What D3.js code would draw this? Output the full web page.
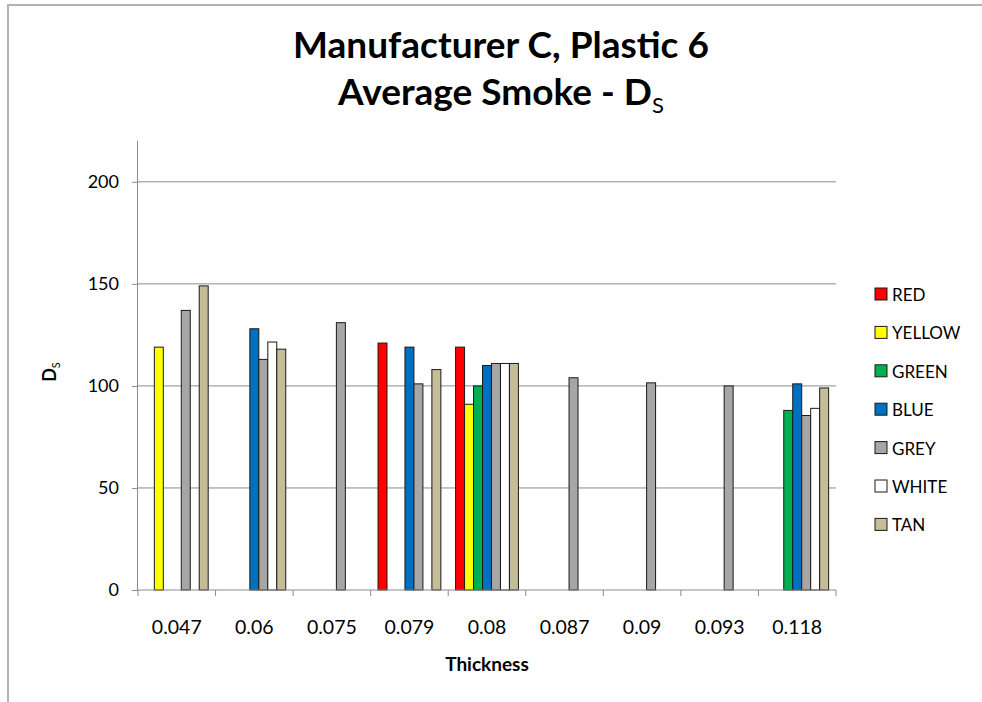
<!DOCTYPE html>
<html>
<head>
<meta charset="utf-8">
<script src="https://cdn.jsdelivr.net/npm/d3@7"></script>
<style>
  html, body { margin: 0; padding: 0; background: #fff; }
  svg { display: block; }
  text { font-family: Lato, "Open Sans", sans-serif; fill: #000; }
</style>
</head>
<body>
<svg id="chart" width="982" height="702"></svg>
<script>
// Thickness categories (x axis)
const categories = ["0.047", "0.06", "0.075", "0.079", "0.08", "0.087", "0.09", "0.093", "0.118"];

// Series names and fills
const seriesNames = ["RED", "YELLOW", "GREEN", "BLUE", "GREY", "WHITE", "TAN"];
const seriesColors = ["#ff0000", "#ffff00", "#00b050", "#0070c0", "#a6a6a6", "#ffffff", "#c4bd97"];

// Average smoke D_s per colour at each thickness (null = not tested)
const red    = [null, null, null, 121, 119, null, null, null, null];
const yellow = [119, null, null, null, 91, null, null, null, null];
const green  = [null, null, null, null, 100, null, null, null, 88];
const blue   = [null, 128, null, 119, 110, null, null, null, 101];
const grey   = [137, 113, 131, 101, 111, 104, 101.5, 100, 85.5];
const white  = [null, 121.5, null, null, 111, null, null, null, 89];
const tan    = [149, 118, null, 108, 111, null, null, null, 99];

const yTicks = [0, 50, 100, 150, 200];

const seriesValues = [red, yellow, green, blue, grey, white, tan];

const svg = d3.select("#chart");

// outer chart frame (top and left edges visible)
svg.append("path")
  .attr("d", "M8,702V5H982")
  .attr("fill", "none")
  .attr("stroke", "#b4b4b4")
  .attr("stroke-width", 2);

const plot = { left: 138, right: 836, top: 141, bottom: 590 };

const x0 = d3.scaleBand()
  .domain(categories)
  .range([plot.left, plot.right])
  .paddingInner(0).paddingOuter(0);

const x1 = d3.scaleBand()
  .domain(seriesNames)
  .range([0, x0.bandwidth()])
  .paddingInner(0).paddingOuter(0.82);

const y = d3.scaleLinear()
  .domain([0, 220])
  .range([plot.bottom, plot.top]);

// horizontal gridlines
svg.append("g")
  .selectAll("line")
  .data(yTicks.filter(d => d > 0))
  .join("line")
  .attr("x1", plot.left).attr("x2", plot.right)
  .attr("y1", d => y(d)).attr("y2", d => y(d))
  .attr("stroke", "#8c8c8c")
  .attr("stroke-width", 1);

// bars
const barData = [];
seriesNames.forEach((s, si) => {
  categories.forEach((c, ci) => {
    const v = seriesValues[si][ci];
    if (v != null) barData.push({ series: s, cat: c, value: v, color: seriesColors[si] });
  });
});

svg.append("g")
  .selectAll("rect")
  .data(barData)
  .join("rect")
  .attr("x", d => x0(d.cat) + x1(d.series))
  .attr("y", d => y(d.value))
  .attr("width", x1.bandwidth())
  .attr("height", d => y(0) - y(d.value))
  .attr("fill", d => d.color)
  .attr("stroke", "#1a1a1a")
  .attr("stroke-width", 1);

// y axis
const yAxis = d3.axisLeft(y).tickValues(yTicks).tickSize(6).tickPadding(13);
const gy = svg.append("g")
  .attr("transform", `translate(${plot.left},0)`)
  .call(yAxis);
gy.select(".domain").attr("stroke", "#8c8c8c").attr("d", `M-0.5,${plot.top}V${plot.bottom}`);
gy.selectAll(".tick line").attr("stroke", "#8c8c8c");
gy.selectAll(".tick text")
  .style("font-family", "Lato, sans-serif")
  .style("font-size", "18px")
  .attr("fill", "#000");

// x axis: ticks at category boundaries
const gx = svg.append("g")
  .attr("transform", `translate(0,${plot.bottom})`);
gx.append("line")
  .attr("x1", plot.left).attr("x2", plot.right)
  .attr("y1", 0).attr("y2", 0)
  .attr("stroke", "#8c8c8c");
const bounds = categories.map(c => x0(c)).concat([x0(categories[categories.length - 1]) + x0.step()]);
gx.selectAll("line.tk")
  .data(bounds)
  .join("line")
  .attr("class", "tk")
  .attr("x1", d => d).attr("x2", d => d)
  .attr("y1", 0).attr("y2", 6)
  .attr("stroke", "#8c8c8c");
gx.selectAll("text")
  .data(categories)
  .join("text")
  .attr("x", d => x0(d) + x0.bandwidth() / 2)
  .attr("y", 44)
  .attr("text-anchor", "middle")
  .style("font-size", "19.5px")
  .text(d => d);

// axis titles
svg.append("text")
  .attr("x", 487)
  .attr("y", 671)
  .attr("text-anchor", "middle")
  .style("font-size", "19px")
  .style("font-weight", "bold")
  .text("Thickness");

const yt = svg.append("text")
  .attr("transform", "translate(56,372) rotate(-90)")
  .attr("text-anchor", "middle")
  .style("font-size", "18px")
  .style("font-weight", "bold");
yt.append("tspan").text("D");
yt.append("tspan").attr("dy", 4).style("font-size", "11px").style("font-weight", "normal").text("S");

// chart title
svg.append("text")
  .attr("x", 501).attr("y", 58)
  .attr("text-anchor", "middle")
  .style("font-size", "37px")
  .style("font-weight", "bold")
  .text("Manufacturer C, Plastic 6");
const t2 = svg.append("text")
  .attr("x", 501).attr("y", 105)
  .attr("text-anchor", "middle")
  .style("font-size", "37px")
  .style("font-weight", "bold");
t2.append("tspan").text("Average Smoke - D");
t2.append("tspan").attr("dy", 8).style("font-size", "22px").style("font-weight", "normal").text("S");

// legend
const legend = svg.append("g").attr("transform", "translate(875,288)");
const rows = legend.selectAll("g")
  .data(seriesNames)
  .join("g")
  .attr("transform", (d, i) => `translate(0,${i * 38.4})`);
rows.append("rect")
  .attr("width", 12).attr("height", 12)
  .attr("fill", (d, i) => seriesColors[i])
  .attr("stroke", "#1a1a1a")
  .attr("stroke-width", 1);
rows.append("text")
  .attr("x", 17)
  .attr("y", 13)
  .style("font-size", "17px")
  .text(d => d);
</script>
</body>
</html>
